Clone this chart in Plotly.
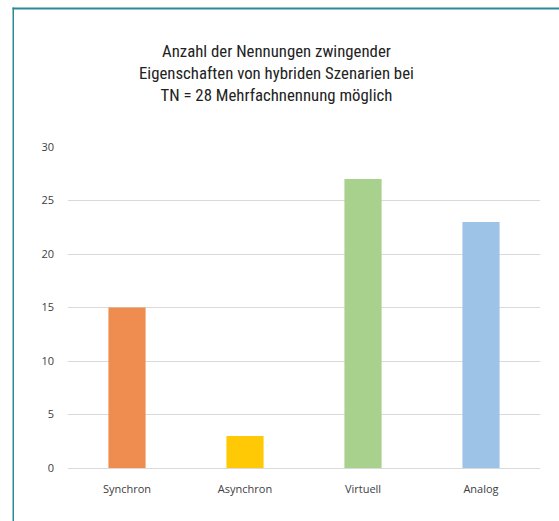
import plotly.graph_objects as go

categories = ["Synchron", "Asynchron", "Virtuell", "Analog"]
values = [15, 3, 27, 23]
colors = ["#EF8D50", "#FFCA05", "#A8D18D", "#9DC3E6"]
y_ticks = [0, 5, 10, 15, 20, 25, 30]
title_lines = ["Anzahl der Nennungen zwingender",
               "Eigenschaften von hybriden Szenarien bei",
               "TN = 28 Mehrfachnennung möglich"]

W, H = 559, 521
L, R, T, B = 68, 540, 147, 468

fig = go.Figure(go.Bar(x=categories, y=values, marker_color=colors,
                       marker_line_width=0, width=0.315))

def px(x):
    return (x - L) / (R - L)

def py(y):
    return (B - y) / (B - T)

fig.update_layout(
    width=W, height=H,
    margin=dict(l=L, r=W - R, t=T, b=H - B),
    paper_bgcolor="white", plot_bgcolor="white",
    showlegend=False,
    font=dict(family="Open Sans, sans-serif", size=11, color="#595959"),
    xaxis=dict(showgrid=False, showline=False, ticks="", ticklabelstandoff=13,
               tickfont=dict(size=11, color="#404040")),
    yaxis=dict(range=[0, 30], tickvals=y_ticks, showgrid=True, gridcolor="#D9D9D9",
               gridwidth=1, zeroline=True, zerolinecolor="#D9D9D9", zerolinewidth=1,
               ticks="", ticklabelstandoff=13, tickfont=dict(size=11, color="#404040")),
    shapes=[
        dict(type="rect", xref="paper", yref="paper", x0=px(12.5), x1=px(W),
             y0=py(9.5), y1=py(7.5), fillcolor="#2B8A95", line=dict(width=0),
             layer="above"),
        dict(type="rect", xref="paper", yref="paper", x0=px(12.5), x1=px(14),
             y0=py(H), y1=py(7.5), fillcolor="#2B8A95", line=dict(width=0),
             layer="above"),
    ],
    annotations=[
        dict(text="<br>".join(title_lines), xref="paper", yref="paper",
             x=px(276), y=py(73), xanchor="center", yanchor="middle",
             showarrow=False, align="center",
             font=dict(family="Roboto Condensed, Roboto, sans-serif", size=16.8, color="#222222"))
    ],
)

fig.write_html("out.html", config={"displayModeBar": False},
               post_script="document.body.style.margin='0';document.body.style.overflow='hidden';")
